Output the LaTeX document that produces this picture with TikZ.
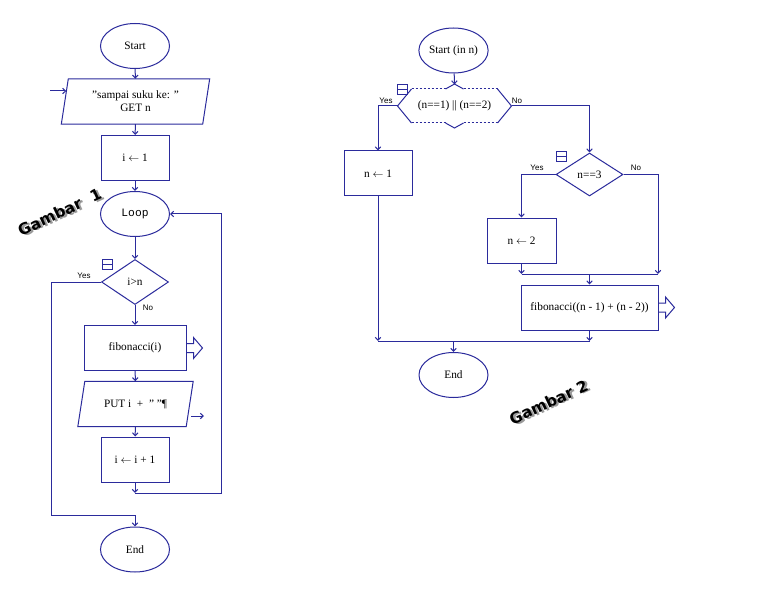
\documentclass[tikz,border=0pt]{standalone}
\usepackage{fontspec}
\setmainfont{Liberation Serif}
\setsansfont{Liberation Sans}
\setmonofont{Liberation Mono}
\newfontfamily\artfont{DejaVu Sans}
\usetikzlibrary{arrows.meta, shapes.geometric, calc}
\definecolor{c1}{HTML}{000000}
\definecolor{c2}{HTML}{2B2B9C}
\definecolor{shade}{HTML}{9A9A9A}

\begin{document}
\begin{tikzpicture}[
    x=1pt, y=-1pt,
    every node/.style={font=\fontsize{11.3}{13}\selectfont, text=c1},
    line/.style={c2, line width=1pt},
    flow/.style={line, -{Straight Barb[length=3pt, width=5.5pt]}},
    term/.style={ellipse, draw=c2, line width=1pt, minimum width=69, minimum height=45, inner sep=0pt},
    proc/.style={rectangle, draw=c2, line width=1pt, minimum width=68, minimum height=45, inner sep=0pt},
    io/.style={rectangle, minimum height=45, inner sep=0pt, align=center},
    cond/.style={diamond, draw=c2, line width=1pt, minimum width=67, minimum height=45, inner sep=0pt},
    ans/.style={font=\fontsize{8}{9}\selectfont\sffamily, text=c1},
    fold/.style={rectangle, draw=c2, line width=1pt, minimum width=10, minimum height=10, inner sep=0pt,
                 path picture={\draw[c2, line width=1pt] (path picture bounding box.west) -- (path picture bounding box.east);}},
    wordart/.style={font=\fontsize{15.5}{18}\selectfont\artfont\bfseries, rotate=25},
]
\def\callmark#1{\draw[line] (#1.east) ++(0,-4.5) -- ++(7,0) -- ++(0,-6) -- ++(9,10.5) -- ++(-9,10.5) -- ++(0,-6) -- ++(-7,0);}
\def\ioframe#1{\draw[line] ($(#1.north west)+(7,0)$) -- (#1.north east) -- ($(#1.south east)+(-7,0)$) -- (#1.south west) -- cycle;}
\def\shadowed#1{\makebox[0pt][l]{\hspace{1.8pt}\raisebox{-1.8pt}{\color{shade}#1}}#1}
\fill[white] (0,0) rectangle (759,612);
\useasboundingbox (0,0) rectangle (759,612);

% ---------------------------------------------------------------- gambar 1
\node[term] (start1) at (135,46) {Start};
\node[io, minimum width=148] (get) at (135.5,101.5) {"sampai suku ke: "\\GET n};
\node[proc] (init) at (135,158) {i $\leftarrow$ 1};
\node[term] (loop) at (135,214) {\ttfamily Loop};
\node[cond] (test) at (135,282) {i>n};
\node[proc, minimum width=102] (call1) at (135,348) {fibonacci(i)};
\node[io, minimum width=115] (put) at (135.5,404) {PUT i \ + \ " "¶};
\node[proc] (incr) at (135,459.5) {i $\leftarrow$ i + 1};
\node[term] (end1) at (135,549.5) {End};
\ioframe{get}
\ioframe{put}

\node[ans] (yes1) at (84,276) {Yes};
\node[ans] (no1) at (148,308) {No};
\node[fold] (fold1) at (107,264) {};

\coordinate (in1) at (50,91);
\coordinate (out1) at (204,416);
\coordinate (join1) at (135,493);
\coordinate (back1) at (221,493);
\coordinate (bypass1) at (51,515);

\draw[flow] (start1) -- (get);
\draw[flow] (get) -- (init);
\draw[flow] (init) -- (loop);
\draw[flow] (loop) -- (test);
\draw[flow] (test) -- (call1);
\draw[flow] (call1) -- (put);
\draw[flow] (put) -- (incr);
\draw[flow] (incr) -- (join1);
\draw[flow] (join1) -- (back1) |- (loop.east);
\draw[flow] (test.west) -| (bypass1) -| (end1.north);
\draw[flow] (in1) -- ($(in1 -| get.west)+(5,0)$);
\draw[flow] ($(out1 -| put.east)+(-2,0)$) -- (out1);
\callmark{call1}

% ---------------------------------------------------------------- gambar 2
\node[term] (start2) at (453.5,50.5) {Start (in n)};
\node[inner sep=0pt] (either) at (454.5,106) {(n==1) || (n==2)};
\node[proc] (one) at (378,173.5) {n $\leftarrow$ 1};
\node[cond, minimum height=43] (three) at (589.5,174.5) {n==3};
\node[proc, minimum width=69] (two) at (521.5,240.5) {n $\leftarrow$ 2};
\node[proc, minimum width=137] (call2) at (589.5,307.5) {fibonacci((n - 1) + (n - 2))};
\node[term] (end2) at (453.5,375) {End};

\node[ans] (yes2) at (386,101) {Yes};
\node[ans] (no2) at (517,101) {No};
\node[ans] (yes3) at (537,168) {Yes};
\node[ans] (no3) at (636,168) {No};
\node[fold] (fold2) at (402,89.5) {};
\node[fold] (fold3) at (561.5,157) {};

% the folded test
\path (either) ++(-57,0) coordinate (either-w)
      (either) ++(57,0) coordinate (either-e)
      (either) ++(0,-21.5) coordinate (either-n);
\draw[line] ($(either)+(-43,-17)$) -- (either-w) -- ($(either)+(-43,17)$);
\draw[line] ($(either)+(43,-17)$) -- (either-e) -- ($(either)+(43,17)$);
\foreach \s in {-1,1}{
    \draw[line, dash pattern=on 2pt off 2pt] ($(either)+(-43,17*\s)$) -- ($(either)+(-9,17*\s)$);
    \draw[line, dash pattern=on 2pt off 2pt] ($(either)+(9,17*\s)$) -- ($(either)+(43,17*\s)$);
    \draw[line] ($(either)+(-9,17*\s)$) -- ($(either)+(0,22*\s)$) -- ($(either)+(9,17*\s)$);
}

\coordinate (join3) at (521.5,274);
\coordinate (skip3) at (658,274);
\coordinate (merge3) at (589.5,274);
\coordinate (join2) at (378,341);
\coordinate (side2) at (589.5,341);
\coordinate (merge2) at (453.5,341);

\draw[flow] (start2) -- (either-n);
\draw[flow] (either-w) -| (one.north);
\draw[flow] (either-e) -| (three.north);
\draw[flow] (three.west) -| (two.north);
\draw[flow] (three.east) -| (skip3);
\draw[flow] (two.south) -- (join3);
\draw[line] (join3) -- (skip3);
\draw[flow] (merge3) -- (call2);
\draw[flow] (one.south) -- (join2);
\draw[flow] (call2.south) -- (side2);
\draw[line] (join2) -- (side2);
\draw[flow] (merge2) -- (end2);
\callmark{call2}

% ---------------------------------------------------------------- captions
\node[wordart] (cap1) at (60,213) {\shadowed{Gambar\ \ 1}};
\node[wordart] (cap2) at (549,403) {\shadowed{Gambar 2}};
\end{tikzpicture}
\end{document}
